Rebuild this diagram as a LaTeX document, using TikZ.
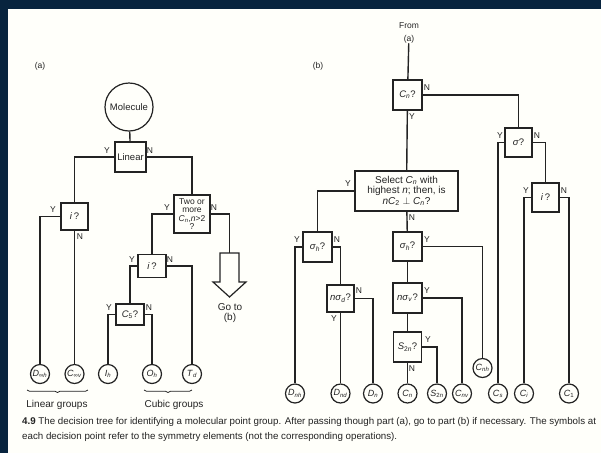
\documentclass[tikz,border=0pt]{standalone}
\usepackage{fontspec}
\setmainfont{Liberation Sans}
\usetikzlibrary{decorations.pathreplacing}
\definecolor{navy}{RGB}{8,36,62}
\definecolor{paper}{RGB}{255,255,250}
\definecolor{ink}{RGB}{35,35,35}
\newcommand\myv[1]{\textit{#1}}
\newcommand\mysb[1]{\textsubscript{\textit{#1}}}
\begin{document}
\begin{tikzpicture}[x=1pt,y=-1pt,
  q/.style={draw=ink, line width=1.2pt, fill=paper, inner sep=0pt, align=center, text=ink, font=\fontsize{9.5}{10}\selectfont},
  leaf/.style={draw=ink, circle, line width=1.2pt, minimum size=19pt, inner sep=0pt, fill=paper, text=ink, font=\fontsize{9}{9}\selectfont},
  yn/.style={font=\fontsize{8.5}{8.5}\selectfont, inner sep=0pt, text=ink},
  conn/.style={draw=ink, line width=1.4pt},
  txt/.style={font=\fontsize{10}{10.5}\selectfont, inner sep=0pt, align=center, text=ink},
  captxt/.style={font=\fontsize{9.75}{10}\selectfont, inner sep=0pt, anchor=west, text=ink},
  brc/.style={draw=ink, line width=0.7pt, decorate, decoration={brace, mirror, amplitude=2.5pt}}]
\useasboundingbox (0,0) rectangle (601,453);
\fill[navy] (0,0) rectangle (601,453);
\fill[paper] (8,9) rectangle (601,453);

% ---------- part (a) ----------
\node[txt, font=\fontsize{8.5}{9}\selectfont] (la) at (40,66) {(a)};
\node[draw=ink, circle, line width=1.2pt, minimum size=48pt, inner sep=0pt, text=ink, font=\fontsize{9.5}{10}\selectfont] (mol) at (129,107) {Molecule};
\node[q, minimum width=31pt, minimum height=30pt] (lin) at (130.5,157) {Linear};
\node[q, minimum width=27pt, minimum height=27pt] (ia) at (74.5,216.5) {\myv{i}\,?};
\node[q, minimum width=36pt, minimum height=38pt, font=\fontsize{8.5}{8.6}\selectfont] (two) at (192,214) {Two or\\more\\\myv{C}\mysb{n},\myv{n}{>}2\\?};
\node[q, minimum width=28pt, minimum height=23pt] (ib) at (152,266) {\myv{i}\,?};
\node[q, minimum width=28pt, minimum height=21pt] (c5) at (130,314.5) {\myv{C}\textsubscript{5}?};
\coordinate (gotop) at (229.5,253);
\draw[ink, line width=1.2pt, fill=paper] (220,253) -- (220,282) -- (213,282) -- (229.5,297) -- (246,282) -- (239,282) -- (239,253) -- cycle;
\node[txt] (goto) at (230,313) {Go to\\(b)};

\node[leaf] (dinf) at (40,374) {\myv{D}\textsubscript{∞\textit{h}}};
\node[leaf] (cinf) at (74.5,374) {\myv{C}\textsubscript{∞\textit{v}}};
\node[leaf] (ih) at (108,374) {\myv{I}\mysb{h}};
\node[leaf] (oh) at (152,374) {\myv{O}\mysb{h}};
\node[leaf] (td) at (192,374) {\myv{T}\mysb{d}};

\draw[conn] (mol) -- (lin);
\draw[conn] (lin.west) -| (ia.north);
\draw[conn] (lin.east) -| (two.north);
\draw[conn] (ia.west) -| (dinf.north);
\draw[conn] (ia.south) -- (cinf.north);
\draw[conn] (two.west) -| (ib.north);
\draw[conn] (two.east) -| (gotop);
\draw[conn] (ib.west) -| (c5.north);
\draw[conn] (ib.east) -| (td.north);
\draw[conn] (c5.west) -| (ih.north);
\draw[conn] (c5.east) -| (oh.north);

\node[yn] at (107,151) {Y};
\node[yn] at (150,151) {N};
\node[yn] at (53,210) {Y};
\node[yn] at (80,237) {N};
\node[yn] at (167,208) {Y};
\node[yn] at (214,208) {N};
\node[yn] at (132,260) {Y};
\node[yn] at (170,260) {N};
\node[yn] at (109,308) {Y};
\node[yn] at (149,308) {N};

\draw[brc] (27,390) -- (88,390);
\draw[brc] (144,390) -- (192,390);
\node[txt] (lg) at (57,405) {Linear groups};
\node[txt] (cg) at (174,405) {Cubic groups};

% ---------- part (b) ----------
\node[txt, font=\fontsize{8.5}{9}\selectfont] (lb) at (318,66) {(b)};
\node[txt, font=\fontsize{8.5}{12.5}\selectfont] (from) at (409,33) {From\\(a)};
\node[q, minimum width=29pt, minimum height=30pt] (cn) at (407.5,95) {\myv{C}\mysb{n}?};
\node[q, minimum width=27pt, minimum height=29pt] (sig) at (518.5,142.5) {\myv{σ}?};
\node[q, minimum width=27pt, minimum height=29pt] (ic) at (545.5,197.5) {\myv{i}\,?};
\node[q, minimum width=103pt, minimum height=40pt, font=\fontsize{10}{10.5}\selectfont] (sel) at (406.5,191) {Select \myv{C}\mysb{n} with\\highest \myv{n}; then, is\\\myv{nC}\textsubscript{2} $\perp$ \myv{C}\mysb{n}?};
\node[q, minimum width=29pt, minimum height=30pt] (sha) at (317.5,247) {\myv{σ}\mysb{h}?};
\node[q, minimum width=27pt, minimum height=27pt] (nsd) at (340.5,298.5) {\myv{nσ}\mysb{d}?};
\node[q, minimum width=29pt, minimum height=29pt] (shb) at (407.5,246.5) {\myv{σ}\mysb{h}?};
\node[q, minimum width=29pt, minimum height=30pt] (nsv) at (407.5,298) {\myv{nσ}\mysb{v}?};
\node[q, minimum width=28pt, minimum height=30pt] (s2n) at (407.5,347) {\myv{S}\textsubscript{2\textit{n}}?};

\node[leaf] (dnh) at (295,393.5) {\myv{D}\mysb{nh}};
\node[leaf] (dnd) at (340.5,393.5) {\myv{D}\mysb{nd}};
\node[leaf] (dn) at (373,393.5) {\myv{D}\mysb{n}};
\node[leaf] (cnl) at (407.5,393.5) {\myv{C}\mysb{n}};
\node[leaf] (s2nl) at (437,393.5) {\myv{S}\textsubscript{2\textit{n}}};
\node[leaf] (cnv) at (462,393.5) {\myv{C}\mysb{nv}};
\node[leaf] (cnh) at (482.5,368) {\myv{C}\mysb{nh}};
\node[leaf] (cs) at (498,393.5) {\myv{C}\mysb{s}};
\node[leaf] (ci) at (524,393.5) {\myv{C}\mysb{i}};
\node[leaf] (c1) at (569,393.5) {\myv{C}\textsubscript{1}};

\draw[conn] (from) -- (cn);
\draw[conn] (cn.east) -| (sig.north);
\draw[conn] (cn) -- (sel);
\draw[conn] (sig.west) -| (cs.north);
\draw[conn] (sig.east) -| (ic.north);
\draw[conn] (ic.west) -| (ci.north);
\draw[conn] (ic.east) -| (c1.north);
\draw[conn] (sel.west) -| (sha.north);
\draw[conn] (sel) -- (shb);
\draw[conn] (sha.west) -| (dnh.north);
\draw[conn] (sha.east) -| (nsd.north);
\draw[conn] (nsd.east) -| (dn.north);
\draw[conn] (nsd) -- (dnd);
\draw[conn] (shb.east) -| (cnh.north);
\draw[conn] (shb) -- (nsv);
\draw[conn] (nsv.east) -| (cnv.north);
\draw[conn] (nsv) -- (s2n);
\draw[conn] (s2n.east) -| (s2nl.north);
\draw[conn] (s2n) -- (cnl);

\node[yn] at (427,88) {N};
\node[yn] at (412,117) {Y};
\node[yn] at (500,136) {Y};
\node[yn] at (537,136) {N};
\node[yn] at (526,191) {Y};
\node[yn] at (564,191) {N};
\node[yn] at (348,184) {Y};
\node[yn] at (412,218) {N};
\node[yn] at (297,240) {Y};
\node[yn] at (337,240) {N};
\node[yn] at (359,291) {N};
\node[yn] at (334,319) {Y};
\node[yn] at (427,240) {Y};
\node[yn] at (427,291) {Y};
\node[yn] at (428,340) {Y};
\node[yn] at (412,369) {N};

% ---------- caption ----------
\node[captxt] (cap1) at (22,422) {\textbf{4.9} The decision tree for identifying a molecular point group. After passing though part (a), go to part (b) if necessary. The symbols at};
\node[captxt] (cap2) at (22,437) {each decision point refer to the symmetry elements (not the corresponding operations).};
\end{tikzpicture}
\end{document}
